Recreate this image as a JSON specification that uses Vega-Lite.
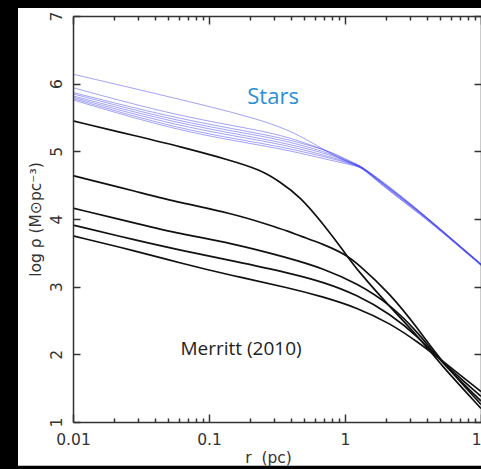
{
  "$schema": "https://vega.github.io/schema/vega-lite/v6.json",
  "width": 408,
  "height": 406,
  "autosize": {"type": "none"},
  "padding": {"left": 73, "top": 16, "right": 0, "bottom": 47},
  "background": "black",
  "config": {
    "view": {"stroke": null},
    "axis": {
      "zindex": 1,
      "grid": false,
      "domainColor": "#333",
      "domainWidth": 1.5,
      "tickColor": "#333",
      "tickWidth": 1.5,
      "labelFont": "DejaVu Sans",
      "labelFontSize": 15.5,
      "labelColor": "#333",
      "titleFont": "DejaVu Sans",
      "titleFontSize": 15.5,
      "titleFontWeight": "normal",
      "titleColor": "#333",
      "labelFlush": false,
      "labelOverlap": false
    }
  },
  "datasets": {
    "dm": [
      {"series": "c1", "r": 0.01, "v": 5.45}, {"series": "c1", "r": 0.03, "v": 5.22}, {"series": "c1", "r": 0.0612, "v": 5.07}, {"series": "c1", "r": 0.1427, "v": 4.87}, {"series": "c1", "r": 0.237, "v": 4.73}, {"series": "c1", "r": 0.333, "v": 4.55}, {"series": "c1", "r": 0.467, "v": 4.33}, {"series": "c1", "r": 0.689, "v": 3.93}, {"series": "c1", "r": 1.0, "v": 3.5}, {"series": "c1", "r": 1.225, "v": 3.25}, {"series": "c1", "r": 2.14, "v": 2.7}, {"series": "c1", "r": 3.5, "v": 2.25}, {"series": "c1", "r": 5, "v": 1.86}, {"series": "c1", "r": 10, "v": 1.2},
      {"series": "c2", "r": 0.01, "v": 4.64}, {"series": "c2", "r": 0.03, "v": 4.4}, {"series": "c2", "r": 0.0612, "v": 4.24}, {"series": "c2", "r": 0.1427, "v": 4.09}, {"series": "c2", "r": 0.281, "v": 3.91}, {"series": "c2", "r": 0.394, "v": 3.81}, {"series": "c2", "r": 0.467, "v": 3.75}, {"series": "c2", "r": 0.689, "v": 3.63}, {"series": "c2", "r": 1.0, "v": 3.48}, {"series": "c2", "r": 1.225, "v": 3.35}, {"series": "c2", "r": 2.14, "v": 2.9}, {"series": "c2", "r": 3.5, "v": 2.36}, {"series": "c2", "r": 5, "v": 1.92}, {"series": "c2", "r": 10, "v": 1.26},
      {"series": "c3", "r": 0.01, "v": 4.16}, {"series": "c3", "r": 0.03, "v": 3.93}, {"series": "c3", "r": 0.0612, "v": 3.78}, {"series": "c3", "r": 0.1427, "v": 3.65}, {"series": "c3", "r": 0.394, "v": 3.42}, {"series": "c3", "r": 0.689, "v": 3.27}, {"series": "c3", "r": 1.225, "v": 3.05}, {"series": "c3", "r": 2.14, "v": 2.74}, {"series": "c3", "r": 3.5, "v": 2.31}, {"series": "c3", "r": 5, "v": 1.9}, {"series": "c3", "r": 10, "v": 1.31},
      {"series": "c4", "r": 0.01, "v": 3.91}, {"series": "c4", "r": 0.03, "v": 3.68}, {"series": "c4", "r": 0.0612, "v": 3.54}, {"series": "c4", "r": 0.15, "v": 3.38}, {"series": "c4", "r": 0.394, "v": 3.2}, {"series": "c4", "r": 0.689, "v": 3.07}, {"series": "c4", "r": 1.225, "v": 2.88}, {"series": "c4", "r": 2.14, "v": 2.6}, {"series": "c4", "r": 3.5, "v": 2.25}, {"series": "c4", "r": 5, "v": 1.91}, {"series": "c4", "r": 10, "v": 1.38},
      {"series": "c5", "r": 0.01, "v": 3.75}, {"series": "c5", "r": 0.03, "v": 3.52}, {"series": "c5", "r": 0.0612, "v": 3.35}, {"series": "c5", "r": 0.15, "v": 3.16}, {"series": "c5", "r": 0.394, "v": 2.98}, {"series": "c5", "r": 0.689, "v": 2.85}, {"series": "c5", "r": 1.225, "v": 2.69}, {"series": "c5", "r": 2.14, "v": 2.46}, {"series": "c5", "r": 3.5, "v": 2.17}, {"series": "c5", "r": 5, "v": 1.93}, {"series": "c5", "r": 10, "v": 1.45}
    ],
    "stars": [
      {"series": "A", "r": 0.01, "v": 6.14}, {"series": "A", "r": 0.0612, "v": 5.77}, {"series": "A", "r": 0.281, "v": 5.44}, {"series": "A", "r": 0.5, "v": 5.2}, {"series": "A", "r": 0.776, "v": 4.97}, {"series": "A", "r": 1.0, "v": 4.86}, {"series": "A", "r": 1.225, "v": 4.79}, {"series": "A", "r": 1.36, "v": 4.755}, {"series": "A", "r": 2.0, "v": 4.49}, {"series": "A", "r": 3.16, "v": 4.19}, {"series": "A", "r": 5, "v": 3.85}, {"series": "A", "r": 10, "v": 3.33},
      {"series": "B", "r": 0.01, "v": 5.94}, {"series": "B", "r": 0.0612, "v": 5.51}, {"series": "B", "r": 0.281, "v": 5.29}, {"series": "B", "r": 0.5, "v": 5.13}, {"series": "B", "r": 0.776, "v": 4.99}, {"series": "B", "r": 1.0, "v": 4.88}, {"series": "B", "r": 1.225, "v": 4.8}, {"series": "B", "r": 1.36, "v": 4.76}, {"series": "B", "r": 2.0, "v": 4.5}, {"series": "B", "r": 3.16, "v": 4.19}, {"series": "B", "r": 5, "v": 3.85}, {"series": "B", "r": 10, "v": 3.33},
      {"series": "L1", "r": 0.01, "v": 5.87}, {"series": "L1", "r": 0.0612, "v": 5.47}, {"series": "L1", "r": 0.281, "v": 5.24}, {"series": "L1", "r": 0.5, "v": 5.11}, {"series": "L1", "r": 0.776, "v": 5.0}, {"series": "L1", "r": 1.0, "v": 4.89}, {"series": "L1", "r": 1.225, "v": 4.81}, {"series": "L1", "r": 1.36, "v": 4.76}, {"series": "L1", "r": 2.0, "v": 4.52}, {"series": "L1", "r": 3.16, "v": 4.2}, {"series": "L1", "r": 5, "v": 3.86}, {"series": "L1", "r": 10, "v": 3.34},
      {"series": "L2", "r": 0.01, "v": 5.85}, {"series": "L2", "r": 0.0612, "v": 5.43}, {"series": "L2", "r": 0.281, "v": 5.21}, {"series": "L2", "r": 0.5, "v": 5.08}, {"series": "L2", "r": 0.776, "v": 4.97}, {"series": "L2", "r": 1.0, "v": 4.87}, {"series": "L2", "r": 1.225, "v": 4.8}, {"series": "L2", "r": 1.36, "v": 4.755}, {"series": "L2", "r": 2.0, "v": 4.5}, {"series": "L2", "r": 3.16, "v": 4.19}, {"series": "L2", "r": 5, "v": 3.85}, {"series": "L2", "r": 10, "v": 3.33},
      {"series": "L3", "r": 0.01, "v": 5.82}, {"series": "L3", "r": 0.0612, "v": 5.4}, {"series": "L3", "r": 0.281, "v": 5.17}, {"series": "L3", "r": 0.5, "v": 5.05}, {"series": "L3", "r": 0.776, "v": 4.95}, {"series": "L3", "r": 1.0, "v": 4.86}, {"series": "L3", "r": 1.225, "v": 4.8}, {"series": "L3", "r": 1.36, "v": 4.75}, {"series": "L3", "r": 2.0, "v": 4.48}, {"series": "L3", "r": 3.16, "v": 4.18}, {"series": "L3", "r": 5, "v": 3.85}, {"series": "L3", "r": 10, "v": 3.33},
      {"series": "L4", "r": 0.01, "v": 5.8}, {"series": "L4", "r": 0.0612, "v": 5.36}, {"series": "L4", "r": 0.281, "v": 5.14}, {"series": "L4", "r": 0.5, "v": 5.02}, {"series": "L4", "r": 0.776, "v": 4.92}, {"series": "L4", "r": 1.0, "v": 4.85}, {"series": "L4", "r": 1.225, "v": 4.79}, {"series": "L4", "r": 1.36, "v": 4.75}, {"series": "L4", "r": 2.0, "v": 4.47}, {"series": "L4", "r": 3.16, "v": 4.17}, {"series": "L4", "r": 5, "v": 3.84}, {"series": "L4", "r": 10, "v": 3.32},
      {"series": "L5", "r": 0.01, "v": 5.78}, {"series": "L5", "r": 0.0612, "v": 5.32}, {"series": "L5", "r": 0.281, "v": 5.1}, {"series": "L5", "r": 0.5, "v": 4.99}, {"series": "L5", "r": 0.776, "v": 4.9}, {"series": "L5", "r": 1.0, "v": 4.84}, {"series": "L5", "r": 1.225, "v": 4.78}, {"series": "L5", "r": 1.36, "v": 4.745}, {"series": "L5", "r": 2.0, "v": 4.46}, {"series": "L5", "r": 3.16, "v": 4.16}, {"series": "L5", "r": 5, "v": 3.84}, {"series": "L5", "r": 10, "v": 3.32},
      {"series": "L6", "r": 0.01, "v": 5.76}, {"series": "L6", "r": 0.0612, "v": 5.29}, {"series": "L6", "r": 0.281, "v": 5.07}, {"series": "L6", "r": 0.5, "v": 4.96}, {"series": "L6", "r": 0.776, "v": 4.87}, {"series": "L6", "r": 1.0, "v": 4.82}, {"series": "L6", "r": 1.225, "v": 4.78}, {"series": "L6", "r": 1.36, "v": 4.74}, {"series": "L6", "r": 2.0, "v": 4.45}, {"series": "L6", "r": 3.16, "v": 4.15}, {"series": "L6", "r": 5, "v": 3.83}, {"series": "L6", "r": 10, "v": 3.31}
    ]
  },
  "resolve": {"axis": {"x": "independent", "y": "independent"}},
  "layer": [
    {
      "data": {"values": [{}]},
      "mark": {"type": "rect", "fill": "white"},
      "encoding": {
        "x": {
          "datum": 0.00394, "type": "quantitative",
          "scale": {"type": "log", "domain": [0.01, 10], "nice": false},
          "axis": {
            "zindex": 1,
            "orient": "bottom",
            "values": [0.01, 0.1, 1, 10],
            "tickSize": -8,
            "labelPadding": 18,
            "labelExpr": "datum.value < 1 ? format(datum.value, '.2~f') : format(datum.value, 'd')",
            "title": "r\u00a0\u00a0(pc)",
            "titlePadding": 3,
            "titleX": 195
          }
        },
        "x2": {"datum": 20},
        "y": {
          "datum": 7.118, "type": "quantitative",
          "scale": {"domain": [1, 7], "nice": false, "zero": false},
          "axis": {
            "zindex": 1,
            "orient": "left",
            "values": [1, 2, 3, 4, 5, 6, 7],
            "format": "d",
            "tickSize": -7,
            "labelAngle": 270,
            "labelAlign": "center",
            "labelBaseline": "alphabetic",
            "labelPadding": 19,
            "title": "log ρ (M⊙pc⁻³)",
            "titlePadding": 6
          }
        },
        "y2": {"datum": 0.353}
      }
    },
    {
      "data": {"name": "dm"},
      "mark": {"type": "line", "color": "#111", "strokeWidth": 1.7, "interpolate": "basis"},
      "encoding": {
        "x": {
          "field": "r", "type": "quantitative",
          "scale": {"type": "log", "domain": [0.01, 10], "nice": false},
          "axis": {
            "zindex": 1,
            "orient": "bottom",
            "values": [0.02, 0.03, 0.04, 0.05, 0.06, 0.07, 0.08, 0.09, 0.2, 0.3, 0.4, 0.5, 0.6, 0.7, 0.8, 0.9, 2, 3, 4, 5, 6, 7, 8, 9],
            "tickSize": -4,
            "labels": false,
            "domain": false,
            "title": null
          }
        },
        "y": {
          "field": "v", "type": "quantitative",
          "scale": {"domain": [1, 7], "nice": false, "zero": false},
          "axis": {
            "zindex": 1,
            "orient": "right",
            "values": [1, 2, 3, 4, 5, 6, 7],
            "tickSize": -7,
            "labels": false,
            "title": null
          }
        },
        "detail": {"field": "series"}
      }
    },
    {
      "data": {"name": "stars"},
      "mark": {"type": "line", "color": "#3030f0", "strokeWidth": 1, "opacity": 0.45, "interpolate": "basis"},
      "encoding": {
        "x": {
          "field": "r", "type": "quantitative",
          "scale": {"type": "log", "domain": [0.01, 10], "nice": false},
          "axis": {
            "zindex": 1,
            "orient": "top",
            "values": [0.01, 0.1, 1, 10],
            "tickSize": -8,
            "labels": false,
            "title": null
          }
        },
        "y": {
          "field": "v", "type": "quantitative",
          "scale": {"domain": [1, 7], "nice": false, "zero": false},
          "axis": null
        },
        "detail": {"field": "series"}
      }
    },
    {
      "data": {"values": [{"label": "Stars", "r": 0.296, "v": 5.7}]},
      "mark": {"type": "text", "font": "Open Sans", "fontSize": 22, "color": "#2a8fd4", "align": "center", "baseline": "alphabetic"},
      "encoding": {
        "x": {
          "field": "r", "type": "quantitative",
          "scale": {"type": "log", "domain": [0.01, 10], "nice": false},
          "axis": {
            "zindex": 1,
            "orient": "top",
            "values": [0.02, 0.03, 0.04, 0.05, 0.06, 0.07, 0.08, 0.09, 0.2, 0.3, 0.4, 0.5, 0.6, 0.7, 0.8, 0.9, 2, 3, 4, 5, 6, 7, 8, 9],
            "tickSize": -4,
            "labels": false,
            "domain": false,
            "title": null
          }
        },
        "y": {
          "field": "v", "type": "quantitative",
          "scale": {"domain": [1, 7], "nice": false, "zero": false},
          "axis": null
        },
        "text": {"field": "label"}
      }
    },
    {
      "data": {"values": [{"label": "Merritt (2010)", "r": 0.172, "v": 1.99}]},
      "mark": {"type": "text", "font": "Open Sans", "fontSize": 19, "color": "#222", "align": "center", "baseline": "alphabetic"},
      "encoding": {
        "x": {
          "field": "r", "type": "quantitative",
          "scale": {"type": "log", "domain": [0.01, 10], "nice": false},
          "axis": null
        },
        "y": {
          "field": "v", "type": "quantitative",
          "scale": {"domain": [1, 7], "nice": false, "zero": false},
          "axis": null
        },
        "text": {"field": "label"}
      }
    }
  ]
}
